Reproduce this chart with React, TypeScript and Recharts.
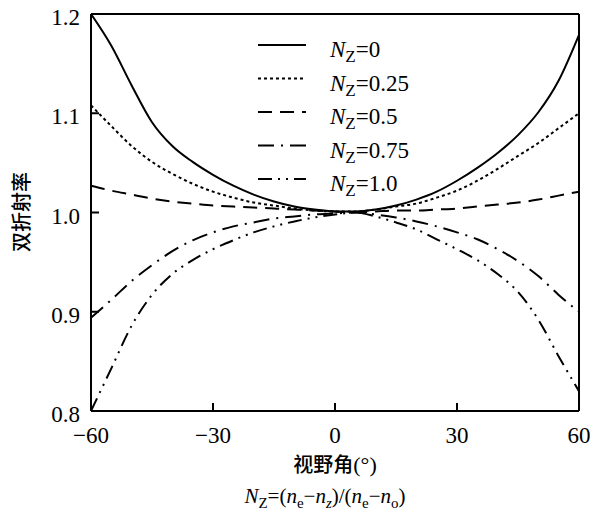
import { LineChart, Line, XAxis, YAxis, ReferenceLine, Customized } from 'recharts';

const angles = [-60, -55, -50, -45, -40, -35, -30, -25, -20, -15, -10, -5, 0, 5, 10, 15, 20, 25, 30, 35, 40, 45, 50, 55, 60];

const nz0 = [1.2, 1.168, 1.128, 1.091, 1.067, 1.051, 1.038, 1.027, 1.018, 1.011, 1.006, 1.003, 1.001, 1.001, 1.003, 1.007, 1.013, 1.021, 1.032, 1.045, 1.06, 1.078, 1.101, 1.133, 1.179];
const nz025 = [1.108, 1.087, 1.067, 1.051, 1.039, 1.029, 1.021, 1.015, 1.01, 1.007, 1.004, 1.002, 1.001, 1.001, 1.003, 1.006, 1.009, 1.015, 1.022, 1.032, 1.044, 1.057, 1.07, 1.085, 1.1];
const nz05 = [1.027, 1.022, 1.018, 1.014, 1.011, 1.009, 1.007, 1.006, 1.005, 1.004, 1.003, 1.002, 1.001, 1.0, 1.001, 1.002, 1.002, 1.003, 1.004, 1.006, 1.008, 1.01, 1.013, 1.017, 1.021];
const nz075 = [0.894, 0.912, 0.931, 0.947, 0.961, 0.972, 0.98, 0.986, 0.99, 0.994, 0.996, 0.998, 0.999, 1.0, 0.998, 0.995, 0.991, 0.986, 0.98, 0.973, 0.963, 0.951, 0.936, 0.917, 0.9];
const nz1 = [0.8, 0.843, 0.886, 0.917, 0.938, 0.952, 0.963, 0.972, 0.98, 0.986, 0.991, 0.995, 0.998, 1.0, 0.996, 0.99, 0.983, 0.973, 0.963, 0.952, 0.938, 0.92, 0.892, 0.855, 0.82];

const xTicks = [-60, -30, 0, 30, 60];
const yTicks = [0.8, 0.9, 1.0, 1.1, 1.2];

const series = [
  { key: 'nz0', label: '0', dash: undefined },
  { key: 'nz025', label: '0.25', dash: '3 3' },
  { key: 'nz05', label: '0.5', dash: '14 8' },
  { key: 'nz075', label: '0.75', dash: '16 7 2 7' },
  { key: 'nz1', label: '1.0', dash: '14 6 2 6 2 6' },
];

const chartData = angles.map((a, i) => ({
  angle: a,
  nz0: nz0[i],
  nz025: nz025[i],
  nz05: nz05[i],
  nz075: nz075[i],
  nz1: nz1[i],
}));

const serif = 'Liberation Serif, serif';
const cjk = 'Noto Sans CJK SC, sans-serif';

const fmtX = (v: number) => (v < 0 ? '\u2212' + Math.abs(v) : String(v));

const LegendBox = () => (
  <g>
    {series.map((s, i) => {
      const y = 45 + i * 33.5;
      return (
        <g key={s.key}>
          <line x1={258} x2={306} y1={y} y2={y} stroke="#000" strokeWidth={2} strokeDasharray={s.dash} />
          <text x={330} y={y + 12} style={{ fontFamily: serif, fontSize: 23 }} fill="#000">
            <tspan fontStyle="italic">N</tspan>
            <tspan fontSize={17} dy={5}>Z</tspan>
            <tspan dy={-5}>={s.label}</tspan>
          </text>
        </g>
      );
    })}
  </g>
);

const AxisTitles = () => (
  <g>
    <text x={20} y={212} transform="rotate(-90 20 212)" textAnchor="middle" dominantBaseline="central" style={{ fontFamily: cjk, fontSize: 20, fontWeight: 500 }} fill="#000">双折射率</text>
    <text x={335} y={472} textAnchor="middle" style={{ fontFamily: cjk, fontSize: 20, fontWeight: 500 }} fill="#000">
      视野角<tspan style={{ fontFamily: serif, fontSize: 22, fontWeight: 400 }}>(°)</tspan>
    </text>
    <text x={325} y={503} textAnchor="middle" style={{ fontFamily: serif, fontSize: 21 }} fill="#000">
      <tspan fontStyle="italic">N</tspan>
      <tspan fontSize={15} dy={5}>Z</tspan>
      <tspan dy={-5}>=(</tspan>
      <tspan fontStyle="italic">n</tspan>
      <tspan fontSize={15} dy={5}>e</tspan>
      <tspan dy={-5}>{'\u2212'}</tspan>
      <tspan fontStyle="italic">n</tspan>
      <tspan fontSize={15} dy={5} fontStyle="italic">z</tspan>
      <tspan dy={-5}>)/(</tspan>
      <tspan fontStyle="italic">n</tspan>
      <tspan fontSize={15} dy={5}>e</tspan>
      <tspan dy={-5}>{'\u2212'}</tspan>
      <tspan fontStyle="italic">n</tspan>
      <tspan fontSize={15} dy={5}>o</tspan>
      <tspan dy={-5}>)</tspan>
    </text>
  </g>
);

const App = () => {
  return (
    <div style={styles.container}>
      <LineChart width={600} height={518} data={chartData} margin={{ top: 14, right: 21, bottom: 0, left: 0 }}>
        <XAxis
          type="number"
          dataKey="angle"
          domain={[-60, 60]}
          ticks={xTicks}
          tickFormatter={fmtX}
          height={107}
          stroke="#000"
          strokeWidth={2}
          tickSize={-8}
          tickMargin={24}
          tick={{ fill: '#000', fontSize: 23, fontFamily: serif, style: { fontFamily: serif } }}
        />
        <YAxis
          type="number"
          domain={[0.8, 1.2]}
          ticks={yTicks}
          tickFormatter={(v: number) => v.toFixed(1)}
          width={91}
          stroke="#000"
          strokeWidth={2}
          tickSize={-8}
          tickMargin={19}
          tick={{ fill: '#000', fontSize: 23, fontFamily: serif, style: { fontFamily: serif }, dy: 3 }}
          allowDataOverflow
        />
        <ReferenceLine y={1.2} stroke="#000" strokeWidth={2} />
        <ReferenceLine x={60} stroke="#000" strokeWidth={2} />
        {series.map(s => (
          <Line
            key={s.key}
            type="monotone"
            dataKey={s.key}
            stroke="#000"
            strokeWidth={2}
            strokeDasharray={s.dash}
            dot={false}
            isAnimationActive={false}
          />
        ))}
        <Customized component={<LegendBox />} />
        <Customized component={<AxisTitles />} />
      </LineChart>
    </div>
  );
};

const styles: any = {
  container: { position: 'absolute', left: 0, top: 0, width: 600, height: 518, background: '#fff', fontFamily: 'Liberation Serif, serif' },
};

export default App;
